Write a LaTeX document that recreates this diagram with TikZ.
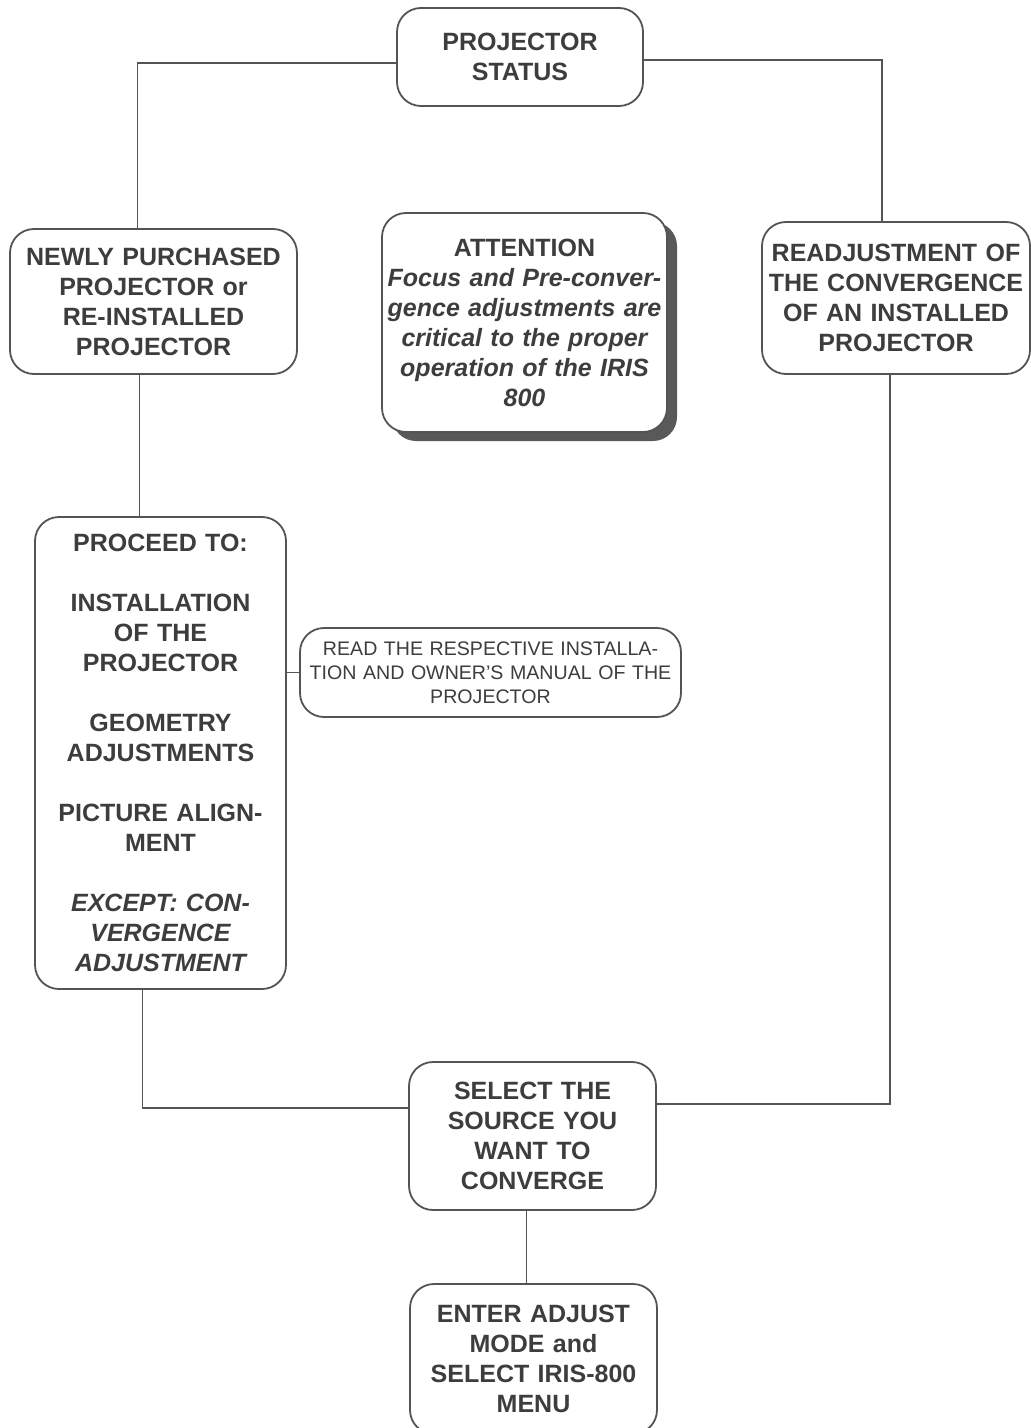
\documentclass[tikz,border=0pt]{standalone}
\usepackage{fontspec}
\setmainfont{Liberation Sans}
\usetikzlibrary{shadows}
\definecolor{inkc}{rgb}{0.24,0.24,0.24}
\definecolor{linec}{rgb}{0.33,0.33,0.33}
\begin{document}
\begin{tikzpicture}[x=0.5pt,y=-0.5pt,
  box/.style={draw=linec, line width=0.9pt, rounded corners=12pt, fill=white,
    align=center, inner sep=2pt, text=inkc,
    font=\fontsize{12.5}{15}\selectfont\bfseries},
  conn/.style={draw=linec, line width=0.8pt}]
\useasboundingbox (0,0) rectangle (1031,1428);
\fill[white] (0,0) rectangle (1031,1428);

\node[box, minimum width=123pt, minimum height=49pt, text width=119pt] (status) at (520,57)
  {PROJECTOR\\STATUS};
\node[box, minimum width=143.5pt, minimum height=72.5pt, text width=139pt] (newly) at (153.5,301.5)
  {NEWLY PURCHASED\\PROJECTOR or\\RE-INSTALLED\\PROJECTOR};
\node[box, minimum width=142.5pt, minimum height=109.5pt, text width=138pt,
  drop shadow={shadow xshift=5pt, shadow yshift=-4.5pt, fill=black!65, opacity=1}] (attn) at (524.5,322.5)
  {ATTENTION\\\itshape Focus and Pre-conver-\\gence adjustments are\\critical to the proper\\operation of the IRIS\\800};
\node[box, minimum width=134pt, minimum height=76pt, text width=130pt] (readj) at (896,298)
  {READJUSTMENT OF\\THE CONVERGENCE\\OF AN INSTALLED\\PROJECTOR};
\node[box, minimum width=125.5pt, minimum height=236pt, text width=121pt] (proceed) at (160.5,753)
  {PROCEED TO:\\[15pt]INSTALLATION\\OF THE\\PROJECTOR\\[15pt]GEOMETRY\\ADJUSTMENTS\\[15pt]PICTURE ALIGN-\\MENT\\[15pt]\itshape EXCEPT: CON-\\\itshape VERGENCE\\\itshape ADJUSTMENT};
\node[box, minimum width=190.5pt, minimum height=44.5pt, text width=186pt,
  font=\fontsize{9.8}{12}\selectfont] (read) at (490.5,672.5)
  {READ THE RESPECTIVE INSTALLA-\\TION AND OWNER'S MANUAL OF THE\\PROJECTOR};
\node[box, minimum width=123.5pt, minimum height=74pt, text width=119pt] (select) at (532.5,1136)
  {SELECT THE\\SOURCE YOU\\WANT TO\\CONVERGE};
\node[box, minimum width=123.5pt, minimum height=75pt, text width=119pt] (enter) at (533.5,1359)
  {ENTER ADJUST\\MODE and\\SELECT IRIS-800\\MENU};

\draw[conn] ([yshift=-3pt]status.west) -| ([xshift=-8pt]newly.north);
\draw[conn] ([yshift=-1.5pt]status.east) -| ([xshift=-7pt]readj.north);
\draw[conn] ([xshift=-7pt]newly.south) -- ([xshift=-7pt]newly.south |- proceed.north);
\draw[conn] ([xshift=-9pt]proceed.south) |- ([yshift=14pt]select.west);
\draw[conn] ([xshift=-3pt]readj.south) |- ([yshift=16pt]select.east);
\draw[conn] ([xshift=-3pt]select.south) -- ([xshift=-3pt]select.south |- enter.north);
\draw[conn] (read.west) -- (read.west -| proceed.east);
\end{tikzpicture}
\end{document}
